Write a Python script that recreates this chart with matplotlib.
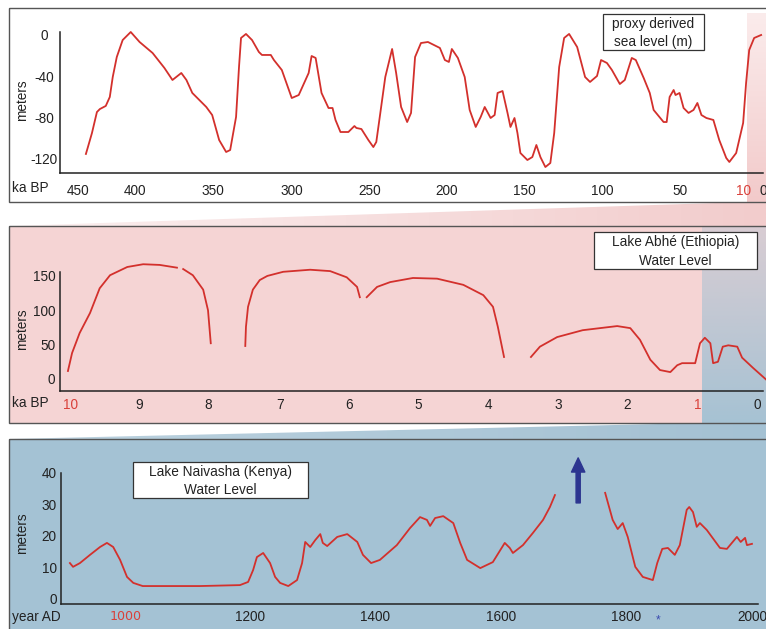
"""
Three stacked water-level / sea-level records, zooming in from 450 ka to the last 1000 years.
"""

import matplotlib
matplotlib.use("Agg")
import matplotlib.pyplot as plt
import numpy as np
from matplotlib.colors import to_rgb
from matplotlib.patches import Polygon, Rectangle

plt.rcParams["font.family"] = ["Liberation Sans", "DejaVu Sans"]
plt.rcParams["axes.unicode_minus"] = False

# ===== Data =====
# proxy derived sea level, ka BP vs meters
sea_ka = [432.7, 431.4, 428.8, 425.6, 423.7, 419.9, 417.3, 415.4, 412.8, 409.0, 403.8, 398.1,
          389.7, 382.1, 376.9, 371.2, 367.9, 364.1, 355.1, 351.3, 346.8, 342.3, 339.7, 335.9,
          334.0, 332.7, 329.5, 325.6, 321.2, 319.2, 313.5, 311.5, 306.4, 300.0, 295.5, 289.1,
          287.2, 284.6, 280.8, 276.3, 273.7, 271.8, 268.6, 263.5, 259.6, 258.3, 255.1, 250.6,
          247.4, 245.5, 242.9, 239.7, 235.3, 232.7, 229.5, 225.6, 223.1, 220.5, 216.7, 212.2,
          204.5, 201.3, 198.7, 196.8, 192.9, 188.5, 185.3, 181.4, 178.2, 175.6, 171.8, 169.2,
          167.3, 164.1, 160.9, 159.0, 156.4, 154.5, 152.6, 148.1, 144.9, 142.3, 139.7, 136.5,
          133.3, 130.8, 127.6, 124.4, 121.2, 116.0, 110.9, 107.7, 103.2, 100.6, 96.8, 93.6,
          88.5, 85.3, 80.8, 78.2, 73.1, 69.2, 66.7, 60.3, 58.3, 56.4, 53.8, 52.6, 50.0, 47.4,
          44.2, 41.0, 38.5, 35.9, 32.7, 28.2, 24.4, 19.9, 17.9, 13.5, 9.0, 7.1, 5.1, 1.9, -2.6]
sea_m = [-115.5, -108.8, -95.2, -74.8, -71.9, -68.9, -60.2, -40.8, -21.4, -4.9, 2.9, -6.8,
         -17.5, -32.0, -43.7, -36.9, -43.7, -56.3, -69.9, -77.7, -102.0, -113.6, -111.7, -79.6,
         -31.1, -2.9, 1.0, -4.9, -16.5, -19.4, -19.4, -24.3, -34.0, -61.2, -58.3, -36.9,
         -20.4, -22.3, -56.3, -70.9, -70.9, -82.5, -94.2, -94.2, -88.4, -90.3, -91.3, -102.0,
         -108.8, -103.9, -75.7, -40.8, -13.6, -36.9, -69.9, -84.5, -75.7, -21.4, -7.8, -6.8,
         -12.6, -24.3, -26.2, -13.6, -22.3, -40.8, -72.8, -89.3, -79.6, -69.9, -80.6, -77.7,
         -56.3, -54.4, -75.7, -89.3, -80.6, -95.2, -114.6, -121.4, -118.5, -106.8, -118.5, -128.2,
         -124.3, -95.2, -31.1, -2.9, 1.0, -11.7, -40.8, -45.6, -39.8, -24.3, -27.2, -34.0,
         -47.6, -43.7, -22.3, -24.3, -41.8, -56.3, -72.8, -84.5, -84.5, -60.2, -53.4, -58.3,
         -56.3, -70.9, -75.7, -72.8, -66.0, -77.7, -80.6, -82.5, -102.0, -119.4, -123.3,
         -114.6, -85.4, -46.6, -14.6, -2.9, 0.0]

# Lake Abhé (Ethiopia), ka BP vs meters; NaN marks a gap in the record
abhe_ka = [10.03, 9.97, 9.86, 9.71, 9.57, 9.42, 9.17, 8.94, 8.70, 8.45, np.nan,
           8.36, 8.22, 8.07, 8.00, 7.96, np.nan,
           7.46, 7.45, 7.42, 7.35, 7.25, 7.14, 6.91, 6.52, 6.23, 5.99, 5.84, 5.80, np.nan,
           5.70, 5.55, 5.36, 5.03, 4.68, 4.30, 4.01, 3.87, 3.80, 3.71, np.nan,
           3.32, 3.19, 2.94, 2.57, 2.07, 1.88, 1.74, 1.59, 1.45, 1.30, 1.20, 1.13, 0.94,
           0.87, 0.80, 0.72, 0.68, 0.61, 0.54, 0.46, 0.33, 0.26, 0.10, -0.09]
abhe_m = [11.6, 37.8, 67, 96, 132, 151, 163, 167, 166, 162, np.nan,
          160, 151, 130, 100, 52, np.nan,
          48, 76, 105, 130, 144, 150, 156, 159, 157, 148, 134, 119, np.nan,
          119, 134, 141, 147, 146, 137, 122, 105, 76, 32, np.nan,
          32, 47, 61, 71, 77, 74, 57, 28, 13, 10, 20, 23, 23,
          52, 60, 52, 23, 25, 47, 49, 47, 31, 16, -1]

# Lake Naivasha (Kenya), year AD vs meters
naivasha_year = [913, 918, 929, 945, 961, 972, 982, 993, 1004, 1014, 1029, 1068, 1120, 1184,
                 1197, 1205, 1211, 1221, 1232, 1240, 1248, 1261, 1275, 1283, 1288, 1296, 1304,
                 1312, 1316, 1323, 1339, 1355, 1371, 1380, 1393, 1407, 1434, 1455, 1471, 1482,
                 1487, 1495, 1508, 1524, 1535, 1546, 1567, 1587, 1606, 1614, 1619, 1635, 1651,
                 1667, 1678, 1686, np.nan,
                 1766, 1778, 1786, 1794, 1802, 1814, 1826, 1842, 1849, 1857, 1866, 1877, 1885,
                 1896, 1900, 1906, 1912, 1917, 1928, 1949, 1960, 1968, 1976, 1982, 1989, 1992,
                 2000]
naivasha_m = [11.4, 10.2, 11.4, 14.0, 16.5, 17.8, 16.5, 12.4, 7.0, 5.1, 4.1, 4.1, 4.1, 4.4,
              5.4, 9.2, 13.3, 14.6, 11.4, 7.0, 5.1, 4.1, 6.0, 11.4, 18.1, 16.5, 18.7,
              20.6, 17.8, 16.8, 19.7, 20.6, 18.1, 14.0, 11.4, 12.4, 17.1, 22.5, 26.0, 25.1,
              23.2, 25.7, 26.3, 24.1, 17.8, 12.4, 9.8, 11.7, 17.8, 16.2, 14.6, 17.1, 21.0,
              25.1, 29.2, 33.0, np.nan,
              33.7, 25.1, 22.2, 24.1, 19.7, 10.2, 7.0, 6.0, 11.4, 15.9, 16.2, 14.0, 17.1,
              28.3, 29.2, 27.6, 22.9, 24.1, 21.9, 16.2, 15.9, 17.8, 19.7, 18.1, 19.4, 17.1,
              17.5]

# Tick labels (positions as printed on the reference)
sea_xticks = [437.8, 401.3, 350.6, 300, 250, 200, 150, 100, 50, 9.0, -3.8]
sea_xlabels = ["450", "400", "350", "300", "250", "200", "150", "100", "50", "10", "0"]
sea_yticks = [0, -40, -80, -120]
abhe_xticks = [10, 9, 8, 6.96, 5.96, 4.96, 3.93, 2.93, 1.93, 0.9, 0.04]
abhe_xlabels = ["10", "9", "8", "7", "6", "5", "4", "3", "2", "1", "0"]
abhe_yticks = [150, 100, 50, 0]
naivasha_xticks = [1002, 1200, 1400, 1600, 1800, 2000]
naivasha_xlabels = ["1000", "1200", "1400", "1600", "1800", "2000"]
naivasha_yticks = [0, 10, 20, 30, 40]

# ===== Style =====
W, H = 766, 629
LINE_RED = "#D3302C"
TEXT_RED = "#D9403A"
TEXT = "#222222"
PINK = "#F5D4D4"
BLUE = "#A4C2D4"
BORDER = "#555555"
FS = 9.8

fig = plt.figure(figsize=(W / 100, H / 100), dpi=100)

bg = fig.add_axes([0, 0, 1, 1])
bg.set_zorder(0)
bg.axis("off")


def gradient(ax, verts, c0, c1, vertical=True):
    """Fill a polygon (pixel coords) with a linear gradient c0 -> c1."""
    verts = np.asarray(verts, dtype=float)
    x0, x1 = verts[:, 0].min(), verts[:, 0].max()
    y0, y1 = verts[:, 1].min(), verts[:, 1].max()
    t = np.linspace(0, 1, 256)
    cols = np.outer(1 - t, to_rgb(c0)) + np.outer(t, to_rgb(c1))
    img = cols[:, None, :] if vertical else cols[None, :, :]
    im = ax.imshow(img, extent=(x0, x1, y1, y0), origin="upper", aspect="auto",
                   interpolation="bilinear", zorder=1)
    patch = Polygon(verts, closed=True, facecolor="none", edgecolor="none")
    ax.add_patch(patch)
    im.set_clip_path(patch)


# panel backgrounds
bg.add_patch(Rectangle((9, 8), 770, 194, facecolor="white", edgecolor="none", zorder=0))
bg.add_patch(Rectangle((9, 226), 770, 197, facecolor=PINK, edgecolor="none", zorder=0))
bg.add_patch(Rectangle((9, 439), 770, 200, facecolor=BLUE, edgecolor="none", zorder=0))

# zoom shading: last 10 ka in the top panel, last 1 ka in the middle panel
gradient(bg, [(747, 13), (766, 13), (766, 202), (747, 202)], "#FBECEC", "#F2CACA")
gradient(bg, [(747, 202), (766, 202), (766, 226), (9, 226)], "#FBF0F0", "#F2CCCC", vertical=False)
gradient(bg, [(702, 226), (766, 226), (766, 423), (702, 423)], "#D9CDD3", "#A6C2D3")
gradient(bg, [(702, 423), (766, 423), (766, 439), (9, 439)], "#BCD2DF", "#A4C1D3", vertical=False)

# panel borders
for (x, y, w, h) in [(9, 8, 770, 194), (9, 226, 770, 197), (9, 439, 770, 200)]:
    bg.add_patch(Rectangle((x, y), w, h, facecolor="none", edgecolor=BORDER, lw=1.0, zorder=2))

# title boxes
for (x0, y0, x1, y1, txt) in [
    (603, 14, 704, 50, "proxy derived\nsea level (m)"),
    (594, 232, 757, 269, "Lake Abhé (Ethiopia)\nWater Level"),
    (133, 462, 308, 498, "Lake Naivasha (Kenya)\nWater Level"),
]:
    bg.add_patch(Rectangle((x0, y0), x1 - x0, y1 - y0, facecolor="white",
                           edgecolor="#333333", lw=0.9, zorder=3))
    bg.text((x0 + x1) / 2, (y0 + y1) / 2 + 1, txt, ha="center", va="center",
            fontsize=FS, color=TEXT, linespacing=1.4, zorder=4)

# axis captions
for y in (100, 329, 533):
    bg.text(22, y, "meters", rotation=90, ha="center", va="center", fontsize=FS, color=TEXT)
bg.text(12, 188, "ka BP", ha="left", va="center", fontsize=FS, color=TEXT)
bg.text(12, 403, "ka BP", ha="left", va="center", fontsize=FS, color=TEXT)
bg.text(12, 617, "year AD", ha="left", va="center", fontsize=FS, color=TEXT)
bg.text(658, 620, "*", ha="center", va="center", fontsize=8.5, color="#3B4BB0")

bg.set_xlim(0, W)
bg.set_ylim(H, 0)


def px_axes(x0, y0, x1, y1):
    ax = fig.add_axes([x0 / W, 1 - y1 / H, (x1 - x0) / W, (y1 - y0) / H])
    ax.set_zorder(5)
    ax.set_facecolor("none")
    for s in ("top", "right"):
        ax.spines[s].set_visible(False)
    for s in ("left", "bottom"):
        ax.spines[s].set_color("#222222")
        ax.spines[s].set_linewidth(1.1)
    ax.tick_params(length=0, labelsize=FS, colors=TEXT)
    return ax


def style_xlabels(ax, red=()):
    for lbl in ax.get_xticklabels():
        if lbl.get_text() in red:
            lbl.set_color(TEXT_RED)


# --- top: sea level ---
ax1 = px_axes(60, 32, 763, 173)
ax1.plot(sea_ka, sea_m, color=LINE_RED, lw=1.3, clip_on=False, solid_joinstyle="round")
ax1.set_xlim(449.4, -1.3)
ax1.set_ylim(-134, 2.9)
ax1.set_xticks(sea_xticks, sea_xlabels)
ax1.set_yticks(sea_yticks)
ax1.tick_params(axis="x", pad=8)
ax1.tick_params(axis="y", pad=11.5)
for lbl in ax1.get_yticklabels():
    lbl.set_ha("center")
style_xlabels(ax1, red=("10",))

# --- middle: Lake Abhé ---
ax2 = px_axes(60, 272, 763, 391)
ax2.plot(abhe_ka, abhe_m, color=LINE_RED, lw=1.3, clip_on=False, solid_joinstyle="round")
ax2.set_xlim(10.145, -0.043)
ax2.set_ylim(-17.5, 155.7)
ax2.set_xticks(abhe_xticks, abhe_xlabels)
ax2.set_yticks(abhe_yticks)
ax2.tick_params(axis="x", pad=5)
ax2.tick_params(axis="y", pad=3.5)
style_xlabels(ax2, red=("10", "1"))

# --- bottom: Lake Naivasha ---
ax3 = px_axes(61, 473, 758, 604)
ax3.plot(naivasha_year, naivasha_m, color=LINE_RED, lw=1.3, clip_on=False,
         solid_joinstyle="round")
ax3.set_xlim(898.8, 2009.6)
ax3.set_ylim(-1.6, 40)
ax3.set_xticks(naivasha_xticks, naivasha_xlabels)
ax3.set_yticks(naivasha_yticks)
ax3.tick_params(axis="x", pad=4)
ax3.tick_params(axis="y", pad=3)
for lbl in ax3.get_xticklabels():
    if lbl.get_text() == "1000":
        lbl.set_color(TEXT_RED)
        lbl.set_family("DejaVu Sans")
        lbl.set_fontsize(FS - 0.7)
ax3.annotate("", xy=(1723, 44.8), xytext=(1723, 30.5), annotation_clip=False,
             arrowprops=dict(arrowstyle="simple,head_length=0.85,head_width=0.8,tail_width=0.25",
                             mutation_scale=12, color="#2C3590", shrinkA=0, shrinkB=0))

fig.savefig("out.png", dpi=100)
